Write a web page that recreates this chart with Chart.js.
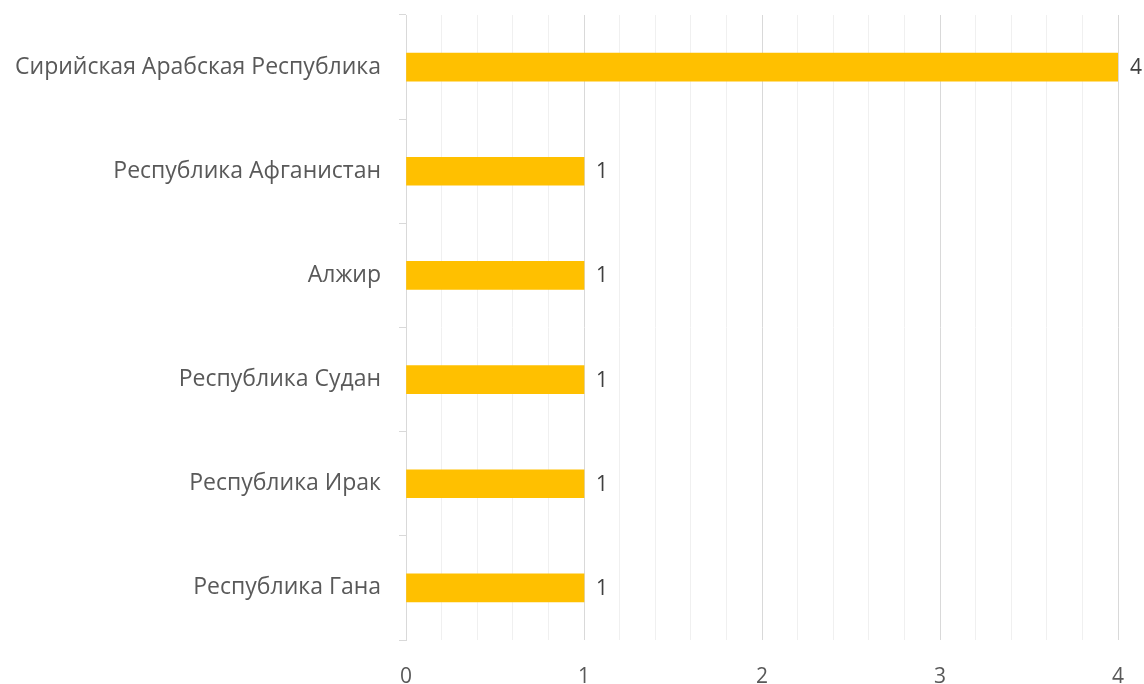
<!DOCTYPE html>
<html>
<head>
<meta charset="utf-8">
<script src="https://cdn.jsdelivr.net/npm/chart.js@4"></script>
<style>
  html, body { margin: 0; padding: 0; background: #fff; }
  #wrap { width: 1144px; height: 684px; }
</style>
</head>
<body>
<div id="wrap"><canvas id="countries"></canvas></div>
<script>
// countries and number of cases
var countries = ["Сирийская Арабская Республика", "Республика Афганистан", "Алжир",
                 "Республика Судан", "Республика Ирак", "Республика Гана"];
var counts = [4, 1, 1, 1, 1, 1];

var xMin = 0;
var xMax = 4;
var xStep = 0.2;

function isWhole(v) {
    return Math.abs(v - Math.round(v)) < 1e-6;
}

// write the value to the right of each bar
var valueLabels = {
    id: 'valueLabels',
    afterDatasetsDraw: function(chart) {
        var ctx = chart.ctx;
        var meta = chart.getDatasetMeta(0);
        ctx.save();
        ctx.font = '21px "Open Sans"';
        ctx.fillStyle = '#404040';
        ctx.textAlign = 'left';
        ctx.textBaseline = 'middle';
        meta.data.forEach(function(bar, i) {
            ctx.fillText(String(counts[i]), bar.x + 12, bar.y + 1);
        });
        ctx.restore();
    }
};

const data = {
    labels: countries,
    datasets: [{
        data: counts,
        backgroundColor: '#FFC000',
        borderWidth: 0,
        barThickness: 28
    }]
};

const config = {
    type: 'bar',
    data,
    plugins: [valueLabels],
    options: {
        indexAxis: 'y',
        responsive: true,
        maintainAspectRatio: false,
        animation: false,
        layout: {
            padding: { top: 15, right: 26, bottom: 0, left: 0 }
        },
        plugins: {
            legend: { display: false },
            tooltip: { enabled: false }
        },
        scales: {
            x: {
                min: xMin,
                max: xMax,
                border: { display: false },
                grid: {
                    drawTicks: false,
                    color: function(c) {
                        return isWhole(c.tick.value) ? '#d9d9d9' : '#f0f0f0';
                    }
                },
                ticks: {
                    stepSize: xStep,
                    autoSkip: false,
                    maxRotation: 0,
                    padding: 24,
                    color: '#595959',
                    font: { family: 'Open Sans', size: 21 },
                    callback: function(v) {
                        return isWhole(v) ? String(Math.round(v)) : '';
                    }
                },
                afterFit: function(scale) {
                    scale.height = 44;
                    scale.paddingLeft = 0;
                    scale.paddingRight = 0;
                }
            },
            y: {
                border: { display: true, color: '#d9d9d9' },
                grid: {
                    offset: true,
                    drawOnChartArea: false,
                    drawTicks: true,
                    tickLength: 7,
                    color: '#d9d9d9'
                },
                ticks: {
                    padding: 18,
                    color: '#595959',
                    font: { family: 'Open Sans', size: 23 }
                },
                afterFit: function(scale) {
                    scale.width = 406;
                    scale.paddingTop = 0;
                    scale.paddingBottom = 0;
                }
            }
        }
    }
};

var myChart = new Chart(document.getElementById('countries'), config);
</script>
</body>
</html>
